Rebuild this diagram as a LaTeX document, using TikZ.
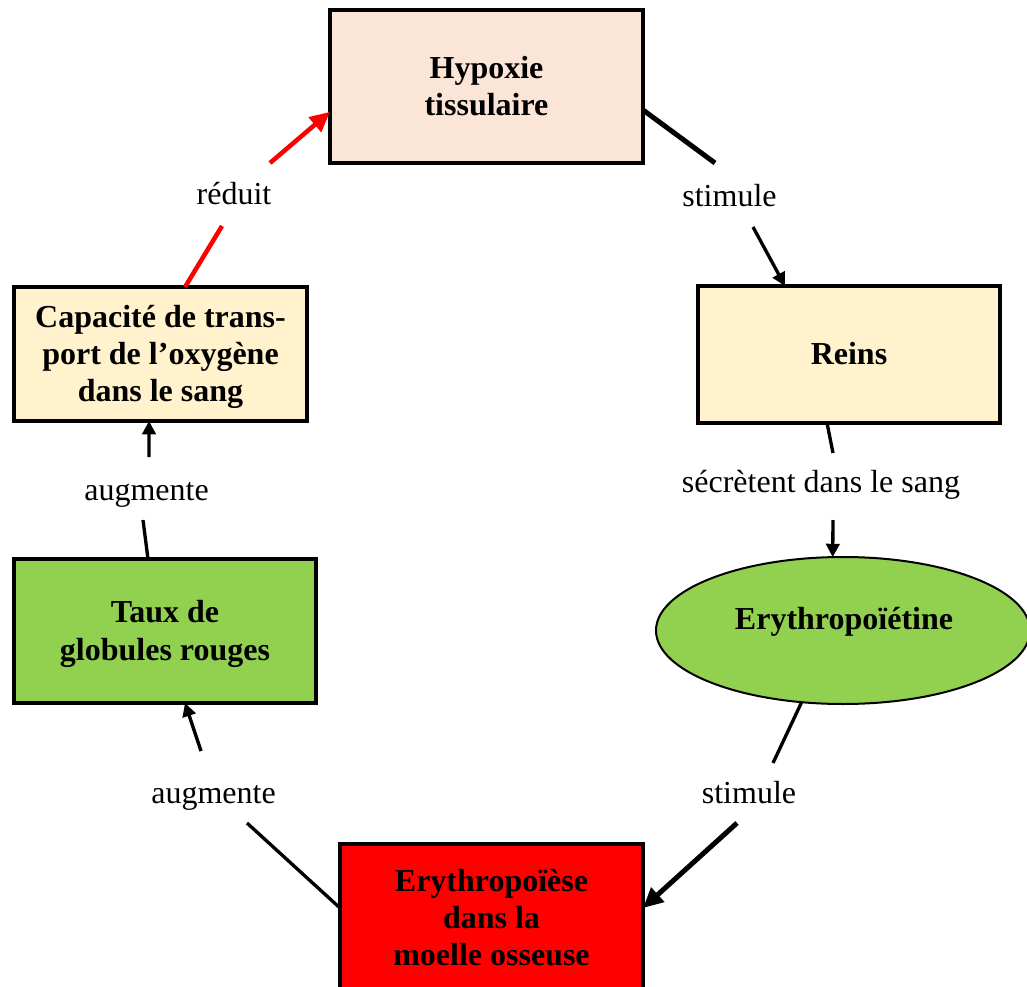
\documentclass[tikz,border=0pt]{standalone}
\usepackage{fontspec}
\setmainfont{Liberation Serif}
\usetikzlibrary{arrows.meta,shapes.geometric}
\definecolor{pinkfill}{HTML}{FBE5D6}
\definecolor{creamfill}{HTML}{FFF2CC}
\definecolor{greenfill}{HTML}{92D050}
\definecolor{redfill}{HTML}{FF0000}
\tikzset{
  box/.style={draw=black, line width=3pt, rectangle, align=center,
    font=\fontsize{24}{28}\selectfont\bfseries, inner sep=0pt, outer sep=0pt,
    text depth=1pt},
  boldtext/.style={font=\fontsize{24}{28}\selectfont\bfseries, inner sep=0pt},
  lab/.style={font=\fontsize{24}{28}\selectfont, inner sep=0pt, anchor=base},
  conn/.style={draw=black, line width=2.5pt},
  thickconn/.style={draw=black, line width=3.75pt},
  tip/.style={-{Triangle[length=10pt,width=10pt]}},
  bigtip/.style={-{Triangle[length=15pt,width=14pt]}},
}
\begin{document}
\begin{tikzpicture}[x=0.75pt,y=-0.75pt]
\useasboundingbox (0,0) rectangle (1027,987);
\clip (0,0) rectangle (1027,987);
% boxes
\node[box, fill=pinkfill, minimum width=234.75pt, minimum height=114.75pt] (hyp) at (486.5,86.5) {Hypoxie\\tissulaire};
\node[box, fill=creamfill, minimum width=226.5pt, minimum height=102.75pt] (reins) at (849,354.5) {Reins};
\node[draw=black, line width=1.5pt, ellipse, fill=greenfill, minimum width=280.5pt, minimum height=110.25pt, inner sep=0pt, outer sep=0pt] (epo) at (843,630.5) {};
\node[boldtext] (epotxt) at (844,622) {Erythropoïétine};
\node[box, fill=redfill, minimum width=227.25pt, minimum height=111pt] (ery) at (491.5,918) {Erythropoïèse\\dans la\\moelle osseuse};
\node[box, fill=greenfill, minimum width=226.5pt, minimum height=108pt] (taux) at (165,631) {Taux de\\globules rouges};
\node[box, fill=creamfill, minimum width=219.75pt, minimum height=100.5pt] (capa) at (160.5,354) {Capacité de trans-\\port de l’oxygène\\dans le sang};
% labels
\node[lab] (lreduit) at (234,205) {réduit};
\node[lab] (lstim1) at (729.5,207) {stimule};
\node[lab] (lsecr) at (821,492) {sécrètent dans le sang};
\node[lab] (lstim2) at (749,803) {stimule};
\node[lab] (laug2) at (213.5,803) {augmente};
\node[lab] (laug1) at (146.5,500) {augmente};
% connector coordinates
\coordinate (r1) at (222,226);
\coordinate (r2) at (270,163);
\coordinate (s1a) at (715,163);
\coordinate (s1b) at (753,227);
\coordinate (c3a) at (833,453);
\coordinate (c3b) at (833,520);
\coordinate (c4a) at (773,763);
\coordinate (c4b) at (737,823);
\coordinate (c5a) at (247,823);
\coordinate (c5b) at (201,751);
\coordinate (c6a) at (143,520);
\coordinate (c6b) at (149,457);
% connectors
\draw[red, line width=3.4pt] ([xshift=18.4pt]capa.north) -- (r1);
\draw[red, line width=3.4pt, -{Triangle[length=15pt,width=14pt]}] (r2) -- ([yshift=-19pt]hyp.west);
\draw[thickconn] ([yshift=-17.6pt]hyp.east) -- (s1a);
\draw[conn, tip] (s1b) -- ([xshift=-48pt]reins.north);
\draw[conn] ([xshift=-16.5pt]reins.south) -- (c3a);
\draw[conn, tip] (c3b) -- (epo.98);
\draw[conn] (epo.240) -- (c4a);
\draw[thickconn, bigtip] (c4b) -- ([yshift=7.5pt]ery.east);
\draw[conn] ([yshift=7.5pt]ery.west) -- (c5a);
\draw[conn, tip] (c5b) -- ([xshift=15pt]taux.south);
\draw[conn] ([xshift=-12.75pt]taux.north) -- (c6a);
\draw[conn, tip] (c6b) -- ([xshift=-8.6pt]capa.south);
\end{tikzpicture}
\end{document}
